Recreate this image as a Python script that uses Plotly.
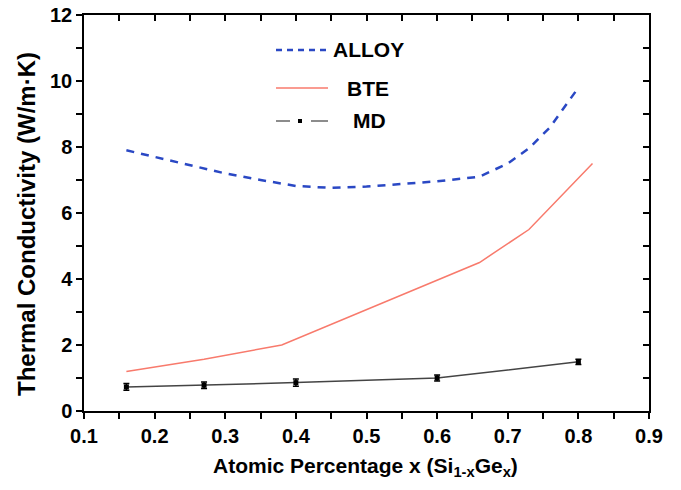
import plotly.graph_objects as go

# ---- data ----
alloy_x = [0.16, 0.20, 0.27, 0.30, 0.35, 0.40, 0.45, 0.50, 0.55, 0.60, 0.66, 0.70, 0.73, 0.76, 0.80]
alloy_y = [7.90, 7.70, 7.36, 7.20, 7.00, 6.82, 6.76, 6.80, 6.88, 6.96, 7.10, 7.50, 7.96, 8.60, 9.80]

bte_x = [0.16, 0.27, 0.38, 0.66, 0.73, 0.82]
bte_y = [1.20, 1.57, 2.00, 4.50, 5.50, 7.50]

md_x = [0.16, 0.27, 0.40, 0.60, 0.80]
md_y = [0.73, 0.78, 0.86, 1.00, 1.49]
md_err = [0.10, 0.10, 0.11, 0.09, 0.08]

legend_names = ["ALLOY", "BTE", "MD"]
x_title = "Atomic Percentage x (Si<sub>1-x</sub>Ge<sub>x</sub>)"
y_title = "Thermal Conductivity (W/m·K)"

FONT = "Liberation Sans, Arial, sans-serif"
BLUE = "#2a48c4"
RED = "#f87a6c"
GRAY = "#444444"

fig = go.Figure()
fig.add_trace(go.Scatter(x=alloy_x, y=alloy_y, mode="lines", name=legend_names[0],
                         line=dict(color=BLUE, width=2.5, dash="8px,7px"), showlegend=False))
fig.add_trace(go.Scatter(x=bte_x, y=bte_y, mode="lines", name=legend_names[1],
                         line=dict(color=RED, width=1.5), showlegend=False))
fig.add_trace(go.Scatter(x=md_x, y=md_y, mode="lines+markers", name=legend_names[2],
                         line=dict(color=GRAY, width=1.5),
                         marker=dict(symbol="square", size=5, color="black"),
                         error_y=dict(type="data", array=md_err, color="black", thickness=1.5, width=3),
                         showlegend=False))

# plot-area geometry in page pixels (body margin removed by post_script)
PL, PR, PT, PB = 84, 649, 15, 411
W, H = 681, 490
L, R, T, B = PL, PR, PT, PB
def px(x):
    return (x - PL) / (PR - PL)
def py(y):
    return (PB - y) / (PB - PT)

shapes = []
annotations = []
LEGFONT = dict(family=FONT, size=21, color="black", weight="bold")
# ALLOY sample
shapes.append(dict(type="line", xref="paper", yref="paper", x0=px(276), x1=px(328), y0=py(50), y1=py(50),
                   line=dict(color=BLUE, width=2.5, dash="6px,5px")))
annotations.append(dict(xref="paper", yref="paper", x=px(331), y=py(50), text="ALLOY",
                        showarrow=False, xanchor="left", yanchor="middle", font=LEGFONT))
# BTE sample
shapes.append(dict(type="line", xref="paper", yref="paper", x0=px(276), x1=px(328), y0=py(88), y1=py(88),
                   line=dict(color=RED, width=1.5)))
annotations.append(dict(xref="paper", yref="paper", x=px(345), y=py(88), text="BTE",
                        showarrow=False, xanchor="left", yanchor="middle", font=LEGFONT))
# MD sample
shapes.append(dict(type="line", xref="paper", yref="paper", x0=px(276), x1=px(290), y0=py(121), y1=py(121),
                   line=dict(color="#666666", width=1.5)))
shapes.append(dict(type="line", xref="paper", yref="paper", x0=px(311), x1=px(328), y0=py(121), y1=py(121),
                   line=dict(color="#666666", width=1.5)))
shapes.append(dict(type="rect", xref="paper", yref="paper", x0=px(298), x1=px(302), y0=py(123), y1=py(119),
                   line=dict(width=0), fillcolor="black"))
annotations.append(dict(xref="paper", yref="paper", x=px(351), y=py(121), text="MD",
                        showarrow=False, xanchor="left", yanchor="middle", font=LEGFONT))

# axis titles
annotations.append(dict(xref="paper", yref="paper", x=px(365), y=py(467), text=x_title,
                        showarrow=False, xanchor="center", yanchor="middle",
                        font=dict(family=FONT, size=21, color="black", weight="bold")))
annotations.append(dict(xref="paper", yref="paper", x=px(26), y=py(224), text=y_title, textangle=-90,
                        showarrow=False, xanchor="center", yanchor="middle",
                        font=dict(family=FONT, size=24, color="black", weight="bold")))

xr = [0.1, 0.9]
yr = [0, 12]
tickfont = dict(family=FONT, size=20, color="black", weight="bold")
common = dict(showline=True, linecolor="black", linewidth=1.5, showgrid=False, zeroline=False,
              automargin=False, tickcolor="black", tickwidth=1.5, ticklen=6, ticklabeloverflow="allow")

fig.update_layout(
    width=W, height=H,
    margin=dict(l=L, r=W - R, t=T, b=H - B),
    paper_bgcolor="white", plot_bgcolor="white",
    shapes=shapes, annotations=annotations,
    xaxis=dict(range=xr, dtick=0.1, tick0=0.1, tickformat=".1f", ticks="outside", tickfont=tickfont,
               minor=dict(dtick=0.05, ticks="outside", ticklen=6, tickwidth=1.5, tickcolor="black"),
               **common),
    yaxis=dict(range=yr, dtick=2, ticks="outside", tickfont=tickfont,
               minor=dict(dtick=1, ticks="outside", ticklen=6, tickwidth=1.5, tickcolor="black"),
               **common),
    xaxis2=dict(range=xr, overlaying="x", side="top", dtick=0.1, tick0=0.1, ticks="inside",
                showticklabels=False, anchor="y",
                minor=dict(dtick=0.05, ticks="inside", ticklen=6, tickwidth=1.5, tickcolor="black"),
                **common),
    yaxis2=dict(range=yr, overlaying="y", side="right", dtick=2, ticks="inside",
                showticklabels=False, anchor="x",
                minor=dict(dtick=1, ticks="inside", ticklen=6, tickwidth=1.5, tickcolor="black"),
                **common),
)
# empty trace so that the top/right frame axes are drawn
fig.add_trace(go.Scatter(x=[None], y=[None], xaxis="x2", yaxis="y2", showlegend=False, hoverinfo="skip"))

fig.write_html("out.html",
               config={"displayModeBar": False},
               post_script="document.body.style.margin='0';document.body.style.overflow='hidden';")
